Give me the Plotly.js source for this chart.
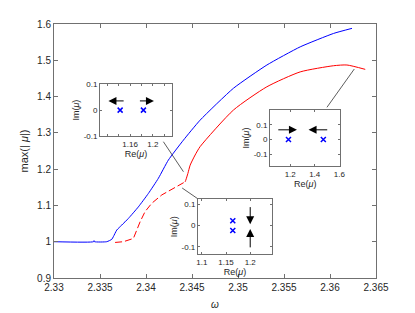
<!DOCTYPE html>
<html>
<head>
<meta charset="utf-8">
<script src="https://cdn.plot.ly/plotly-3.0.1.min.js"></script>
<style>html,body{margin:0;padding:0;background:#fff;}#plot{width:415px;height:313px;}</style>
</head>
<body>
<div id="plot"></div>
<script>
// Main curves
const blueOmega = [2.33, 2.3343, 2.33435, 2.3344, 2.33573, 2.33628, 2.33645, 2.33682, 2.33737, 2.33808, 2.33917, 2.34026, 2.34135, 2.34243, 2.34407, 2.34588, 2.34951, 2.35314, 2.35676, 2.36039, 2.36239];
const blueMax   = [1.0, 1.0, 1.003, 1.0, 1.0, 1.0066, 1.0138, 1.032, 1.046, 1.064, 1.096, 1.133, 1.175, 1.225, 1.280, 1.335, 1.423, 1.487, 1.537, 1.574, 1.588];
const redDashOmega = [2.33664, 2.33754, 2.33863, 2.339, 2.33936, 2.3399, 2.34063, 2.34172, 2.3428, 2.34407, 2.34425];
const redDashMax   = [0.998, 1.0, 1.009, 1.032, 1.055, 1.083, 1.106, 1.129, 1.144, 1.161, 1.165];
const redSolidOmega = [2.34425, 2.34433, 2.34455, 2.3448, 2.34534, 2.34588, 2.34951, 2.35314, 2.35676, 2.36039, 2.36184, 2.36383];
const redSolidMax   = [1.165, 1.170, 1.188, 1.211, 1.239, 1.262, 1.363, 1.427, 1.468, 1.485, 1.487, 1.475];
const mainXTicks = [2.33, 2.335, 2.34, 2.345, 2.35, 2.355, 2.36, 2.365];
const mainXLabels = ["2.33", "2.335", "2.34", "2.345", "2.35", "2.355", "2.36", "2.365"];
const mainYTicks = [0.9, 1, 1.1, 1.2, 1.3, 1.4, 1.5, 1.6];
const mainYLabels = ["0.9", "1", "1.1", "1.2", "1.3", "1.4", "1.5", "1.6"];

// Inset 1 (upper left)
const in1Re = [1.1424, 1.1834];
const in1Im = [0, 0];
// Inset 2 (right)
const in2Re = [1.186, 1.47];
const in2Im = [0, 0];
// Inset 3 (bottom)
const in3Re = [1.164, 1.164];
const in3Im = [0.023, -0.023];

// Connector lines [x0, y0, x1, y1] in main data units
const connectors = [
  [2.34189, 1.2756, 2.34407, 1.1929],
  [2.34393, 1.148, 2.34556, 1.1196],
  [2.35967, 1.3704, 2.36264, 1.4759]
];
// Arrows [headX, headY, tailX, tailY, axisSuffix]
const arrows = [
  [1.1218, 0.0355, 1.1512, 0.0355, '2'],
  [1.2019, 0.0355, 1.1746, 0.0355, '2'],
  [1.255, 0.066, 1.091, 0.066, '3'],
  [1.35, 0.066, 1.514, 0.066, '3'],
  [1.2, 0.006, 1.2, 0.094, '4'],
  [1.2, -0.016, 1.2, -0.11, '4']
];

const axCol = '#707070';
const txtCol = '#262626';
const font = 'Liberation Sans, Arial, sans-serif';

function insetAxis(domain, range, tickvals, ticktext, anchor, title, extra) {
  const a = {
    domain: domain, range: range, tickvals: tickvals, ticktext: ticktext,
    anchor: anchor, showgrid: false, zeroline: false, showline: true, mirror: 'ticks',
    linecolor: axCol, linewidth: 1, ticks: 'inside', ticklen: 2, tickcolor: axCol,
    tickfont: {family: font, size: 8, color: txtCol},
    title: {text: title, font: {family: font, size: 9, color: txtCol}, standoff: 2},
    fixedrange: true
  };
  return Object.assign(a, extra || {});
}

const traces = [
  {x: blueOmega, y: blueMax, mode: 'lines', line: {color: '#0000ff', width: 1, shape: 'spline', smoothing: 0.5}, xaxis: 'x', yaxis: 'y'},
  {x: redDashOmega, y: redDashMax, mode: 'lines', line: {color: '#ff0000', width: 1, dash: '7px,3px'}, xaxis: 'x', yaxis: 'y'},
  {x: redSolidOmega, y: redSolidMax, mode: 'lines', line: {color: '#ff0000', width: 1, shape: 'spline', smoothing: 0.6}, xaxis: 'x', yaxis: 'y'},
  {x: in1Re, y: in1Im, mode: 'markers', marker: {symbol: 'x-thin', size: 5, line: {color: '#0000ff', width: 1.5}}, xaxis: 'x2', yaxis: 'y2'},
  {x: in2Re, y: in2Im, mode: 'markers', marker: {symbol: 'x-thin', size: 5, line: {color: '#0000ff', width: 1.5}}, xaxis: 'x3', yaxis: 'y3'},
  {x: in3Re, y: in3Im, mode: 'markers', marker: {symbol: 'x-thin', size: 5, line: {color: '#0000ff', width: 1.5}}, xaxis: 'x4', yaxis: 'y4'}
];

const shapes = connectors.map(c => ({type: 'line', xref: 'x', yref: 'y', x0: c[0], y0: c[1], x1: c[2], y1: c[3], line: {color: '#333', width: 0.8}}));

const annotations = arrows.map(a => ({
  x: a[0], y: a[1], ax: a[2], ay: a[3],
  xref: 'x' + a[4], yref: 'y' + a[4], axref: 'x' + a[4], ayref: 'y' + a[4],
  showarrow: true, arrowhead: 2, arrowsize: 1.6, arrowwidth: 1, arrowcolor: '#000', text: ''
}));

const layout = {
  width: 415, height: 313,
  margin: {l: 54, r: 39, t: 24, b: 35},
  paper_bgcolor: '#fff', plot_bgcolor: '#fff',
  showlegend: false,
  font: {family: font, color: txtCol},
  xaxis: {
    range: [2.33, 2.365], tickvals: mainXTicks, ticktext: mainXLabels,
    showgrid: false, zeroline: false, showline: true, mirror: 'ticks', linecolor: axCol, linewidth: 1,
    ticks: 'inside', ticklen: 4, tickcolor: axCol,
    tickfont: {family: font, size: 10, color: txtCol},
    title: {text: '<i>ω</i>', font: {family: font, size: 10, color: txtCol}, standoff: 8},
    domain: [0, 1], anchor: 'y'
  },
  yaxis: {
    range: [0.9, 1.6], tickvals: mainYTicks, ticktext: mainYLabels,
    showgrid: false, zeroline: false, showline: true, mirror: 'ticks', linecolor: axCol, linewidth: 1,
    ticks: 'inside', ticklen: 4, tickcolor: axCol,
    tickfont: {family: font, size: 10, color: txtCol},
    title: {text: 'max(| <i>μ</i>|)', font: {family: font, size: 11, color: txtCol}, standoff: 6},
    domain: [0, 1], anchor: 'x'
  },
  xaxis2: insetAxis([0.143, 0.366], [1.107, 1.2335], [1.16, 1.2], ['1.16', '1.2'], 'y2', 'Re(<i>μ</i>)',
    {minor: {dtick: 0.02, tick0: 1.12, ticks: 'inside', ticklen: 2, tickcolor: axCol}}),
  yaxis2: insetAxis([0.559, 0.763], [-0.1, 0.1], [-0.1, 0, 0.1], ['-0.1', '0', '0.1'], 'x2', 'Im(<i>μ</i>)'),
  xaxis3: insetAxis([0.671, 0.889], [1.036, 1.608], [1.2, 1.4, 1.6], ['1.2', '1.4', '1.6'], 'y3', 'Re(<i>μ</i>)'),
  yaxis3: insetAxis([0.441, 0.661], [-0.18, 0.2], [-0.1, 0, 0.1], ['-0.1', '0', '0.1'], 'x3', 'Im(<i>μ</i>)'),
  xaxis4: insetAxis([0.447, 0.677], [1.092, 1.245], [1.1, 1.15, 1.2], ['1.1', '1.15', '1.2'], 'y4', 'Re(<i>μ</i>)'),
  yaxis4: insetAxis([0.093, 0.310], [-0.136, 0.124], [-0.1, 0, 0.1], ['-0.1', '0', '0.1'], 'x4', 'Im(<i>μ</i>)'),
  shapes: shapes,
  annotations: annotations
};

Plotly.newPlot('plot', traces, layout, {staticPlot: true, displayModeBar: false});
</script>
</body>
</html>
